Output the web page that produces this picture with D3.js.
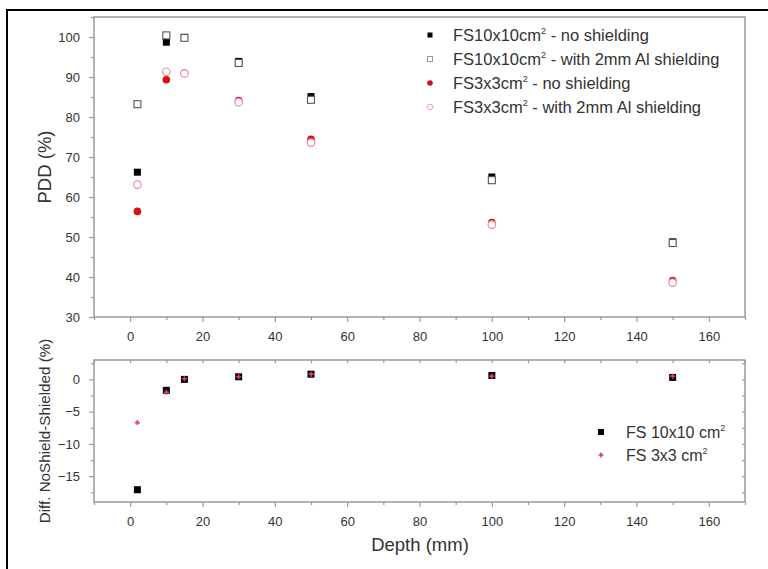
<!DOCTYPE html>
<html><head><meta charset="utf-8">
<script src="https://cdn.jsdelivr.net/npm/d3@7"></script>
<style>body{margin:0;background:#fff} svg{display:block;font-family:"Liberation Sans",Arial,sans-serif}</style>
</head><body><svg id="c" width="768" height="569"></svg>
<script>
// ---- data ----
const depth = [2, 10, 15, 30, 50, 100, 150];
const fs10NoShield = [66.2, 98.7, 99.9, 93.9, 85.1, 65.0, 48.8];
const fs10Shield   = [83.2, 100.4, 99.8, 93.5, 84.3, 64.2, 48.5];
const fs3NoShield  = [56.4, 89.3, 91.0, 84.1, 74.4, 53.6, 39.1];
const fs3Shield    = [63.1, 91.3, 90.9, 83.7, 73.6, 53.1, 38.6];
const fs10Diff = [-17.1, -1.7, 0.0, 0.4, 0.8, 0.6, 0.3];
const fs3Diff  = [-6.7, -2.0, 0.1, 0.4, 0.8, 0.5, 0.5];
const xTicks = [0, 20, 40, 60, 80, 100, 120, 140, 160];
const xMinor = [-10, 10, 30, 50, 70, 90, 110, 130, 150, 170];
const yTopTicks = [30, 40, 50, 60, 70, 80, 90, 100];
const yTopMinor = [35, 45, 55, 65, 75, 85, 95, 105];
const yBotTicks = [-15, -10, -5, 0];
const yBotMinor = [-17.5, -12.5, -7.5, -2.5, 2.5];
const topLegendMain = ["FS10x10cm", "FS10x10cm", "FS3x3cm", "FS3x3cm"];
const topLegendRest = [" - no shielding", " - with 2mm Al shielding", " - no shielding", " - with 2mm Al shielding"];
const botLegend = ["FS 10x10 cm", "FS 3x3 cm"];

const svg = d3.select("#c");
svg.append("path").attr("d", "M7,569 V10 H768").attr("fill", "none").attr("stroke", "#000").attr("stroke-width", 2);

const x = d3.scaleLinear().domain([-10, 170]).range([94, 745]);
const yTop = d3.scaleLinear().domain([30, 105]).range([317, 17]);
const yBot = d3.scaleLinear().domain([-19, 3]).range([502, 360]);

const axisCol = "#9a9a9a";
function frame(y) {
  svg.append("rect").attr("x", x.range()[0]).attr("y", y.range()[1])
    .attr("width", x.range()[1] - x.range()[0]).attr("height", y.range()[0] - y.range()[1])
    .attr("fill", "none").attr("stroke", axisCol).attr("stroke-width", 1.5);
}
function styleAxis(g) {
  g.select(".domain").remove();
  g.selectAll(".tick line").attr("stroke", axisCol).attr("stroke-width", 1.2);
  g.selectAll(".tick text").attr("fill", "#333").attr("font-size", 13).attr("font-family", "Liberation Sans, Arial, sans-serif");
}
function xAxes(y) {
  const yy = y.range()[0];
  svg.append("g").attr("transform", `translate(0,${yy})`)
    .call(d3.axisBottom(x).tickValues(xTicks).tickSize(5).tickPadding(10)).call(styleAxis);
  svg.append("g").attr("transform", `translate(0,${yy})`)
    .call(d3.axisBottom(x).tickValues(xMinor).tickSize(3).tickFormat("")).call(styleAxis);
}
function yAxes(y, major, minor) {
  const xx = x.range()[0];
  svg.append("g").attr("transform", `translate(${xx},0)`)
    .call(d3.axisLeft(y).tickValues(major).tickSize(5).tickPadding(9)).call(styleAxis);
  svg.append("g").attr("transform", `translate(${xx},0)`)
    .call(d3.axisLeft(y).tickValues(minor).tickSize(3).tickFormat("")).call(styleAxis);
}
function supText(sel, main, rest, fs) {
  sel.append("tspan").text(main);
  sel.append("tspan").attr("font-size", fs * 0.55).attr("dy", -fs * 0.42).text("2");
  if (rest) sel.append("tspan").attr("dy", fs * 0.42).text(rest);
}

// ---- top panel ----
frame(yTop);
xAxes(yTop);
yAxes(yTop, yTopTicks, yTopMinor);

const sq = 7;
function squares(vals, y, fill, stroke) {
  svg.append("g").selectAll("rect").data(vals).join("rect")
    .attr("x", (d, i) => x(depth[i]) - sq / 2).attr("y", d => y(d) - sq / 2)
    .attr("width", sq).attr("height", sq).attr("fill", fill)
    .attr("stroke", stroke).attr("stroke-width", stroke === "none" ? 0 : 1.1);
}
function circles(vals, y, fill, stroke) {
  svg.append("g").selectAll("circle").data(vals).join("circle")
    .attr("cx", (d, i) => x(depth[i])).attr("cy", d => y(d)).attr("r", 3.8)
    .attr("fill", fill).attr("stroke", stroke).attr("stroke-width", stroke === "none" ? 0 : 1.2);
}
squares(fs10NoShield, yTop, "#000", "none");
squares(fs10Shield, yTop, "#fff", "#555");
circles(fs3NoShield, yTop, "#d41010", "none");
circles(fs3Shield, yTop, "#fff", "#ee8aa0");

// top legend
const lg = svg.append("g");
const lgY = [35, 59, 83, 107];
const lfs = 16.5;
lgY.forEach((yy, i) => {
  if (i === 0) lg.append("rect").attr("x", 427.5).attr("y", yy - 2.5).attr("width", 5).attr("height", 5).attr("fill", "#000");
  if (i === 1) lg.append("rect").attr("x", 427.5).attr("y", yy - 2.5).attr("width", 5).attr("height", 5).attr("fill", "#fff").attr("stroke", "#999");
  if (i === 2) lg.append("circle").attr("cx", 430).attr("cy", yy).attr("r", 2.8).attr("fill", "#c8102e");
  if (i === 3) lg.append("circle").attr("cx", 430).attr("cy", yy).attr("r", 2.8).attr("fill", "#fff").attr("stroke", "#f2a0b4");
  const t = lg.append("text").attr("x", 453).attr("y", yy + lfs * 0.35)
    .attr("font-size", lfs).attr("fill", "#333");
  supText(t, topLegendMain[i], topLegendRest[i], lfs);
});

// y title top
svg.append("text").attr("transform", `translate(45,${(yTop.range()[0] + yTop.range()[1]) / 2}) rotate(-90)`)
  .attr("text-anchor", "middle").attr("dy", "0.35em").attr("font-size", 18.5).attr("fill", "#333").text("PDD (%)");

// ---- bottom panel ----
frame(yBot);
xAxes(yBot);
yAxes(yBot, yBotTicks, yBotMinor);
svg.append("g").attr("transform", `translate(0,${yBot.range()[1]})`)
  .call(d3.axisTop(x).tickValues(xTicks.concat(xMinor)).tickSize(-3).tickFormat("")).call(styleAxis);
svg.append("g").attr("transform", `translate(${x.range()[1]},0)`)
  .call(d3.axisRight(yBot).tickValues(yBotTicks.concat(yBotMinor)).tickSize(-3).tickFormat("")).call(styleAxis);

squares(fs10Diff, yBot, "#000", "none");
const plus = d3.symbol().type(d3.symbolCross).size(14);
svg.append("g").selectAll("path").data(fs3Diff).join("path")
  .attr("transform", (d, i) => `translate(${x(depth[i])},${yBot(d)})`)
  .attr("d", plus).attr("fill", "#e0405a");

// bottom legend
svg.append("rect").attr("x", 598).attr("y", 429).attr("width", 6).attr("height", 6).attr("fill", "#000");
svg.append("path").attr("transform", "translate(601,455)").attr("d", plus).attr("fill", "#e0405a");
const bfs = 16;
[432, 455].forEach((yy, i) => {
  const t = svg.append("text").attr("x", 626).attr("y", yy + bfs * 0.35)
    .attr("font-size", bfs).attr("fill", "#333");
  supText(t, botLegend[i], null, bfs);
});

svg.append("text").attr("transform", `translate(45,${(yBot.range()[0] + yBot.range()[1]) / 2}) rotate(-90)`)
  .attr("text-anchor", "middle").attr("dy", "0.35em").attr("font-size", 15.2).attr("fill", "#333").text("Diff. NoShield-Shielded (%)");

svg.append("text").attr("x", 420).attr("y", 545).attr("dy", "0.35em").attr("text-anchor", "middle")
  .attr("font-size", 18.5).attr("fill", "#333").text("Depth (mm)");
</script></body></html>
